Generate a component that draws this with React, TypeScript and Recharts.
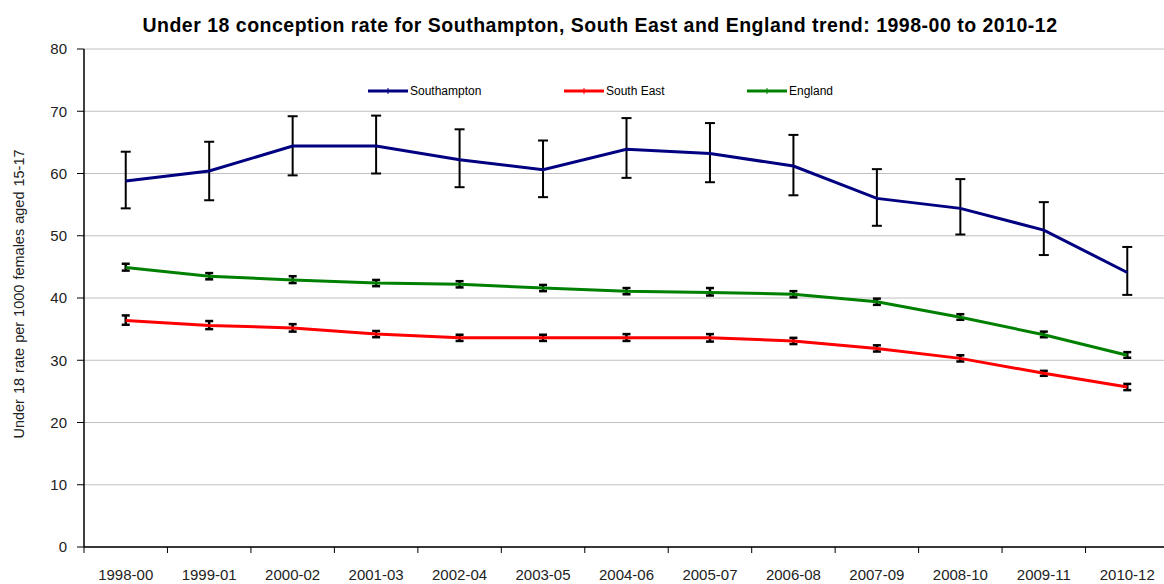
import { LineChart, Line, XAxis, YAxis, CartesianGrid, ErrorBar, Legend } from "recharts";

const periods = [
  "1998-00", "1999-01", "2000-02", "2001-03", "2002-04", "2003-05", "2004-06",
  "2005-07", "2006-08", "2007-09", "2008-10", "2009-11", "2010-12",
];

const southampton = [58.8, 60.4, 64.4, 64.4, 62.2, 60.6, 63.9, 63.2, 61.2, 56.0, 54.4, 50.9, 44.1];
const southamptonLow = [54.4, 55.7, 59.7, 60.0, 57.8, 56.2, 59.3, 58.6, 56.5, 51.6, 50.2, 46.9, 40.5];
const southamptonHigh = [63.5, 65.1, 69.2, 69.3, 67.1, 65.3, 68.9, 68.1, 66.2, 60.7, 59.1, 55.4, 48.2];

const southEast = [36.4, 35.6, 35.2, 34.2, 33.6, 33.6, 33.6, 33.6, 33.1, 31.9, 30.3, 27.9, 25.7];
const southEastLow = [35.7, 35.0, 34.6, 33.7, 33.1, 33.1, 33.1, 33.0, 32.6, 31.4, 29.8, 27.5, 25.2];
const southEastHigh = [37.2, 36.3, 35.8, 34.7, 34.1, 34.1, 34.2, 34.2, 33.6, 32.4, 30.8, 28.3, 26.2];

const england = [44.9, 43.5, 42.9, 42.4, 42.2, 41.6, 41.1, 40.9, 40.6, 39.4, 36.9, 34.1, 30.8];
const englandLow = [44.4, 43.0, 42.4, 41.9, 41.7, 41.1, 40.6, 40.4, 40.1, 38.9, 36.5, 33.7, 30.4];
const englandHigh = [45.5, 44.0, 43.5, 42.9, 42.7, 42.1, 41.6, 41.6, 41.1, 39.9, 37.4, 34.6, 31.3];

const yTicks = [0, 10, 20, 30, 40, 50, 60, 70, 80];

const series = [
  { key: "southampton", name: "Southampton", color: "#000080" },
  { key: "southEast", name: "South East", color: "#ff0000" },
  { key: "england", name: "England", color: "#008000" },
];

const data = periods.map((period, i) => ({
  period,
  southampton: southampton[i],
  southamptonErr: [southampton[i] - southamptonLow[i], southamptonHigh[i] - southampton[i]],
  southEast: southEast[i],
  southEastErr: [southEast[i] - southEastLow[i], southEastHigh[i] - southEast[i]],
  england: england[i],
  englandErr: [england[i] - englandLow[i], englandHigh[i] - england[i]],
}));

const font = "'Liberation Sans', Arial, sans-serif";
const X_TICK_SIZE = 6;
const X_TICK_MARGIN = 16;

function LegendContent() {
  const widths = [196, 183, 120];
  return (
    <div style={{ display: "flex", fontFamily: font, fontSize: 12, color: "#000" }}>
      {series.map((s, i) => (
        <div key={s.key} style={{ width: widths[i], display: "flex", alignItems: "center" }}>
          <svg width={42} height={10}>
            <line x1={0} y1={5} x2={40} y2={5} stroke={s.color} strokeWidth={3} />
            <line x1={20} y1={2} x2={20} y2={8} stroke={s.color} strokeWidth={1} />
          </svg>
          <span>{s.name}</span>
        </div>
      ))}
    </div>
  );
}

// category label centred in its band, tick mark on the band's left edge (Excel style)
function PeriodTick(props: any) {
  const { x, y, payload, index, width } = props;
  const band = (width || 1085) / periods.length;
  const axisY = y - X_TICK_SIZE - X_TICK_MARGIN;
  const left = x - band / 2;
  return (
    <g>
      <line x1={left} y1={axisY} x2={left} y2={axisY + X_TICK_SIZE} stroke="#000" />
      {index === periods.length - 1 && (
        <line x1={x + band / 2} y1={axisY} x2={x + band / 2} y2={axisY + X_TICK_SIZE} stroke="#000" />
      )}
      <text x={x} y={y} dy="0.71em" textAnchor="middle" fontSize={15} fill="#222" fontFamily={font}>
        {payload.value}
      </text>
    </g>
  );
}

// rotated axis title, centred on the plot height
function YLabel(props: any) {
  const vb = props.viewBox;
  const x = 19;
  const y = vb.y + vb.height / 2 - 4;
  return (
    <text
      x={x}
      y={y}
      transform={`rotate(-90, ${x}, ${y})`}
      textAnchor="middle"
      dominantBaseline="central"
      fontSize={14.5}
      fill="#222"
      fontFamily={font}
      style={{ wordSpacing: 1 }}
    >
      Under 18 rate per 1000 females aged 15-17
    </text>
  );
}

export default function App() {
  return (
    <div style={{ position: "absolute", left: 0, top: 0, width: 1164, height: 584, overflow: "hidden", background: "#fff" }}>
      <div
        style={{
          position: "absolute",
          left: 18,
          top: 14,
          width: 1164,
          textAlign: "center",
          fontFamily: font,
          fontWeight: "bold",
          fontSize: 19.5,
          letterSpacing: 0.5,
          color: "#000",
        }}
      >
        Under 18 conception rate for Southampton, South East and England trend: 1998-00 to 2010-12
      </div>
      <LineChart
        width={1172}
        height={584}
        data={data}
        margin={{ top: 49, right: 3, bottom: 0, left: 0 }}
        style={{ fontFamily: font }}
      >
        <CartesianGrid horizontal vertical={false} stroke="#c0c0c0" />
        <XAxis
          dataKey="period"
          type="category"
          scale="band"
          height={37}
          axisLine={{ stroke: "#000", strokeWidth: 1.5 }}
          tickLine={false}
          tickSize={X_TICK_SIZE}
          tickMargin={X_TICK_MARGIN}
          interval={0}
          tick={<PeriodTick />}
        />
        <YAxis
          domain={[0, 80]}
          ticks={yTicks}
          width={84}
          tickSize={7}
          tickMargin={10}
          interval={0}
          axisLine={{ stroke: "#000", strokeWidth: 1.5 }}
          tickLine={{ stroke: "#000" }}
          tick={{ fontSize: 15, fill: "#222" }}
          label={<YLabel />}
        />
        <Legend
          verticalAlign="middle"
          align="center"
          layout="horizontal"
          content={<LegendContent />}
          wrapperStyle={{ position: "absolute", top: 84, left: 368, width: 520 }}
        />
        {series.map((s) => (
          <Line
            key={s.key}
            type="linear"
            dataKey={s.key}
            name={s.name}
            stroke={s.color}
            strokeWidth={3}
            dot={false}
            activeDot={false}
            isAnimationActive={false}
          >
            <ErrorBar
              dataKey={`${s.key}Err`}
              width={s.key === "southampton" ? 5 : 4}
              stroke="#000"
              strokeWidth={s.key === "southampton" ? 2 : 2.5}
              direction="y"
              isAnimationActive={false}
            />
          </Line>
        ))}
      </LineChart>
    </div>
  );
}
